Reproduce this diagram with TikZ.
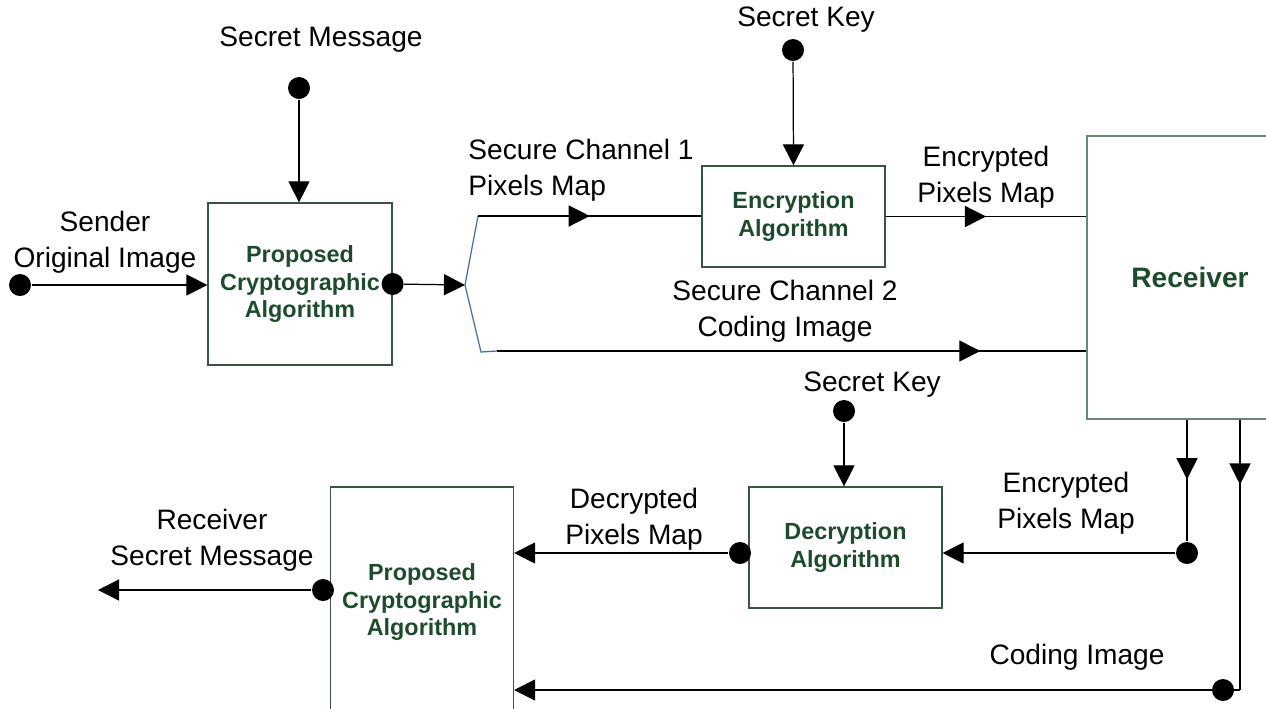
\documentclass[tikz,border=0pt]{standalone}
\usepackage{fontspec}
\setmainfont{Liberation Sans}
\usetikzlibrary{arrows.meta,decorations.markings}
\definecolor{algtext}{RGB}{28,76,44}
\definecolor{boxline}{RGB}{55,85,65}
\definecolor{recvline}{RGB}{105,135,115}
\definecolor{forkline}{RGB}{70,110,170}

\begin{document}
\begin{tikzpicture}[x=0.02cm, y=-0.02cm, line width=0.7pt,
		>={Triangle[length=12pt,width=12pt]},
		lbl/.style={align=center, font=\fontsize{16}{20.4}\selectfont},
		alg/.style={draw=boxline, align=center, text=algtext, font=\fontsize{13.3}{15.6}\selectfont\bfseries, inner sep=0pt},
		dot/.style={circle, fill=black, inner sep=0pt, minimum size=0.44cm},
		midarrow/.style={postaction={decorate}, decoration={markings, mark=at position #1 with {\arrow{Triangle[length=12pt,width=12pt]}}}}]
		\useasboundingbox (0,0) rectangle (1266,708);
		
		\node[alg, minimum width=3.68cm, minimum height=3.24cm] (prop1) at (300,284) {Proposed\\Cryptographic\\Algorithm};
		\node[alg, minimum width=3.66cm, minimum height=2.02cm] (enc) at (793.5,216.5) {Encryption\\Algorithm};
		\node[alg, draw=recvline, minimum width=4.12cm, minimum height=5.66cm, font=\fontsize{16}{19}\selectfont\bfseries] (recv) at (1190,277.5) {Receiver};
		\node[alg, minimum width=3.86cm, minimum height=2.42cm] (dec) at (845.5,547.5) {Decryption\\Algorithm};
		\node[alg, minimum width=3.66cm, minimum height=4.6cm] (prop2) at (422,602) {Proposed\\Cryptographic\\Algorithm};
		
		\node[dot] (sendin) at (20,285) {};
		\node[dot] (msgin) at (299,88) {};
		\node[dot] (propout) at (prop1.east) {};
		\node[dot] (keyenc) at (793,50) {};
		\node[dot] (keydec) at (844,411) {};
		\node[dot] (encin) at (1187,553) {};
		\node[dot] (codein) at (1223,690) {};
		\node[dot] (decout) at (740,553) {};
		\node[dot] (msgout) at (323,590) {};
		
		\coordinate (fork) at (465,285);
		\coordinate (forkup) at (478,216);
		\coordinate (forkdn) at (481,352);
		\coordinate (chan2) at (497,351);
		\coordinate (corner) at (1240,690);
		\coordinate (msgend) at (98,590);
		
		\draw[->] (sendin) -- (prop1.west |- sendin);
		\draw[->] (msgin) -- (msgin |- prop1.north);
		\draw[->] (propout) -- (fork);
		\draw[forkline] (forkup) -- (fork) -- (forkdn) -- (chan2);
		\draw[midarrow=0.5] (forkup) -- (forkup -| enc.west);
		\draw[midarrow=0.82] (chan2) -- (chan2 -| recv.west);
		\draw[->] (keyenc) -- (enc.north);
		\draw[midarrow=0.5] (enc.east) -- (enc.east -| recv.west);
		
		\draw[midarrow=0.49] (recv.south -| encin) -- (encin);
		\draw[->] (encin) -- (encin -| dec.east);
		\draw[->] (keydec) -- (keydec |- dec.north);
		\draw[->] (decout) -- (decout -| prop2.east);
		\draw[midarrow=0.24] (recv.south -| corner) -- (corner);
		\draw[->] (corner) -- (corner -| prop2.east);
		\draw[->] (msgout) -- (msgend);
		
		\node[lbl] (sendlbl) at (105,242) {Sender\\Original Image};
		\node[lbl] (msglbl) at (321,40) {Secret Message};
		\node[lbl] (keylbl1) at (806,20) {Secret Key};
		\node[lbl, align=left, anchor=west] (ch1lbl) at (462,170) {Secure Channel 1\\Pixels Map};
		\node[lbl] (enclbl1) at (986,177) {Encrypted\\Pixels Map};
		\node[lbl] (ch2lbl) at (785,311) {Secure Channel 2\\Coding Image};
		\node[lbl] (keylbl2) at (872,385) {Secret Key};
		\node[lbl] (declbl) at (634,519) {Decrypted\\Pixels Map};
		\node[lbl] (enclbl2) at (1066,503) {Encrypted\\Pixels Map};
		\node[lbl] (rcvlbl) at (212,540) {Receiver\\Secret Message};
		\node[lbl] (codelbl) at (1077,657) {Coding Image};
\end{tikzpicture}
\end{document}
